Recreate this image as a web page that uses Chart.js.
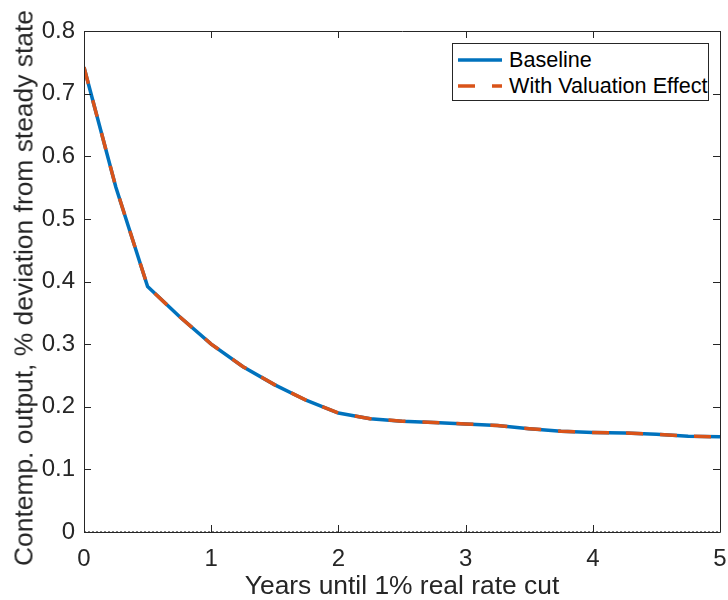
<!DOCTYPE html>
<html>
<head>
<meta charset="utf-8">
<title>Contemporaneous output response</title>
<script src="https://cdn.jsdelivr.net/npm/chart.js@4.4.1/dist/chart.umd.min.js"></script>
<style>
  body { margin: 0; background: #fff; }
  #wrap { position: relative; width: 728px; height: 600px; }
  #legend {
    position: absolute; left: 452px; top: 43px; width: 255px; height: 56px;
    border: 1px solid #262626; background: #fff;
    font-family: "Liberation Sans", Arial, sans-serif; font-size: 21.6px; color: #000;
  }
  #legend .row { position: absolute; left: 5px; height: 26px; display: flex; align-items: center; }
  #legend svg { margin-right: 6px; }
  #ylabel {
    position: absolute; left: 24px; top: 288px; white-space: nowrap;
    transform: translate(-50%, -50%) rotate(-90deg);
    font-family: "Liberation Sans", Arial, sans-serif; font-size: 26.4px; color: #262626;
  }
</style>
</head>
<body>
<div id="wrap">
  <canvas id="chart" width="728" height="600"></canvas>
  <div id="ylabel">Contemp. output, % deviation from steady state</div>
  <div id="legend">
    <div class="row" style="top:3px">
      <svg width="45" height="8"><line x1="0" y1="4" x2="44" y2="4" stroke="#0072BD" stroke-width="3.5"/></svg>Baseline
    </div>
    <div class="row" style="top:29px">
      <svg width="45" height="8"><line x1="0" y1="4" x2="44" y2="4" stroke="#D95319" stroke-width="3.5" stroke-dasharray="17 17"/></svg>With Valuation Effect
    </div>
  </div>
</div>
<script>
// years until the rate cut (quarterly grid)
const years = [0, 0.25, 0.5, 0.75, 1, 1.25, 1.5, 1.75, 2, 2.25, 2.5, 2.75, 3, 3.25, 3.5, 3.75, 4, 4.25, 4.5, 4.75, 5];
const baseline = [0.742, 0.551, 0.392, 0.344, 0.300, 0.264, 0.235, 0.210, 0.190, 0.181, 0.177, 0.175, 0.1725, 0.170, 0.165, 0.161, 0.159, 0.158, 0.156, 0.153, 0.152];
const withValuation = [0.742, 0.551, 0.392, 0.344, 0.300, 0.264, 0.235, 0.210, 0.190, 0.181, 0.177, 0.175, 0.1725, 0.170, 0.165, 0.161, 0.159, 0.158, 0.156, 0.153, 0.152];
const zeroYears = [0, 5];
const zeroLine = [0, 0];
const xTicks = [0, 1, 2, 3, 4, 5];
const yTicks = [0, 0.1, 0.2, 0.3, 0.4, 0.5, 0.6, 0.7, 0.8];

const AXIS_COLOR = '#262626';
const FONT = '"Liberation Sans", Arial, sans-serif';

const toPoints = (xs, ys) => xs.map((x, i) => ({ x: x, y: ys[i] }));

// box around the axes with inward ticks on all four sides
const framePlugin = {
    id: 'frame',
    afterDatasetsDraw(chart) {
        const { ctx, chartArea: a, scales } = chart;
        const len = 7;
        ctx.save();
        ctx.strokeStyle = AXIS_COLOR;
        ctx.lineWidth = 1;
        ctx.beginPath();
        ctx.rect(a.left + 0.5, a.top + 0.5, a.right - a.left, a.bottom - a.top);
        scales.x.ticks.forEach(t => {
            const px = Math.round(scales.x.getPixelForValue(t.value)) + 0.5;
            ctx.moveTo(px, a.bottom); ctx.lineTo(px, a.bottom - len);
            ctx.moveTo(px, a.top); ctx.lineTo(px, a.top + len);
        });
        scales.y.ticks.forEach(t => {
            const py = Math.round(scales.y.getPixelForValue(t.value)) + 0.5;
            ctx.moveTo(a.left, py); ctx.lineTo(a.left + len, py);
            ctx.moveTo(a.right, py); ctx.lineTo(a.right - len, py);
        });
        ctx.stroke();
        ctx.restore();
    }
};

const ctx = document.getElementById('chart').getContext('2d');
new Chart(ctx, {
    type: 'line',
    data: {
        datasets: [
            {
                label: 'zero',
                data: toPoints(zeroYears, zeroLine),
                borderColor: '#000',
                borderWidth: 1,
                borderDash: [2, 2],
                pointRadius: 0,
                order: 2
            },
            {
                label: 'Baseline',
                data: toPoints(years, baseline),
                borderColor: '#0072BD',
                borderWidth: 3.5,
                pointRadius: 0,
                tension: 0,
                order: 1
            },
            {
                label: 'With Valuation Effect',
                data: toPoints(years, withValuation),
                borderColor: '#D95319',
                borderWidth: 3.5,
                borderDash: [17, 17],
                pointRadius: 0,
                tension: 0,
                order: 0
            }
        ]
    },
    options: {
        responsive: false,
        animation: false,
        layout: { padding: { left: 0, right: 8, top: 31, bottom: 0 } },
        plugins: { legend: { display: false }, tooltip: { enabled: false } },
        scales: {
            x: {
                type: 'linear',
                min: 0, max: 5,
                afterBuildTicks: s => { s.ticks = xTicks.map(v => ({ value: v })); },
                afterFit: s => { s.height = 68; s.paddingRight = 0; s.paddingLeft = 0; },
                grid: { display: false, drawTicks: false },
                border: { display: false },
                ticks: { color: AXIS_COLOR, font: { family: FONT, size: 24 }, padding: 13, maxRotation: 0 },
                title: {
                    display: true,
                    text: 'Years until 1% real rate cut',
                    color: AXIS_COLOR,
                    font: { family: FONT, size: 26.4, lineHeight: 1 },
                    padding: { top: 0, bottom: 0 }
                }
            },
            y: {
                min: 0, max: 0.8,
                afterBuildTicks: s => { s.ticks = yTicks.map(v => ({ value: v })); },
                afterFit: s => { s.width = 84; },
                grid: { display: false, drawTicks: false },
                border: { display: false },
                ticks: { color: AXIS_COLOR, font: { family: FONT, size: 24 }, padding: 9, callback: v => String(v) }
            }
        }
    },
    plugins: [framePlugin]
});
</script>
</body>
</html>
